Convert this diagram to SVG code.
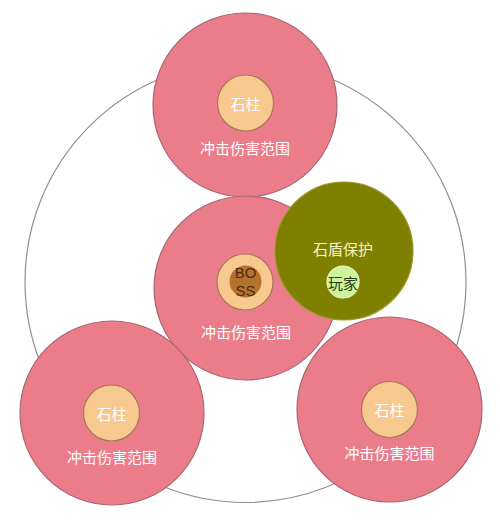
<svg xmlns="http://www.w3.org/2000/svg" width="500" height="523" viewBox="0 0 500 523">
<style>
.range{fill:#EB7D8B;stroke:#A8656F;stroke-width:1.2}
.pillar{fill:#F8C98E;stroke:#A8775A;stroke-width:1.2}
.lbl{font-family:"Noto Sans CJK SC","Liberation Sans",sans-serif;font-size:15px;fill:#ffffff;text-anchor:middle;dominant-baseline:central}
.en{font-family:"Liberation Sans",sans-serif;font-size:15px;fill:#4a2e10;text-anchor:middle;dominant-baseline:central}
</style>
<rect width="500" height="523" fill="#ffffff"/>
<g id="arena">
<circle cx="245.5" cy="282" r="220.5" fill="none" stroke="#8f8f8f" stroke-width="1.2"/>
</g>
<g id="connectors"></g>
<g id="pillar-top">
<circle class="range" cx="245" cy="105" r="92"/>
<circle class="pillar" cx="245.5" cy="103" r="28"/>
<text class="lbl" x="245.5" y="103">石柱</text>
<text class="lbl" x="245" y="147">冲击伤害范围</text>
</g>
<g id="boss">
<circle class="range" cx="246" cy="288" r="92"/>
<circle class="pillar" cx="245" cy="282" r="28"/>
<circle cx="245.5" cy="281.5" r="16" fill="#B5722F"/>
<text class="en" x="245.5" y="272">BO</text>
<text class="en" x="245.5" y="290">SS</text>
<text class="lbl" x="246" y="331">冲击伤害范围</text>
</g>
<g id="pillar-left">
<circle class="range" cx="112" cy="413" r="92"/>
<circle class="pillar" cx="111.5" cy="413" r="28"/>
<text class="lbl" x="111.5" y="413">石柱</text>
<text class="lbl" x="112" y="456">冲击伤害范围</text>
</g>
<g id="pillar-right">
<circle class="range" cx="389.5" cy="409.5" r="92.5"/>
<circle class="pillar" cx="389.5" cy="409.5" r="28"/>
<text class="lbl" x="389.5" y="409.5">石柱</text>
<text class="lbl" x="389.5" y="452">冲击伤害范围</text>
</g>
<g id="shield">
<circle cx="344" cy="251" r="69" fill="#7F7F00" stroke="#9a9a2a" stroke-width="1.2"/>
<text class="lbl" x="343" y="248" style="fill:#F7F1C8">石盾保护</text>
<g id="player">
<circle cx="343" cy="282" r="16" fill="#CDF49A" stroke="#E4F8C8" stroke-width="1.2"/>
<text class="lbl" x="343" y="282" style="fill:#2a3a10">玩家</text>
</g>
</g>
</svg>
